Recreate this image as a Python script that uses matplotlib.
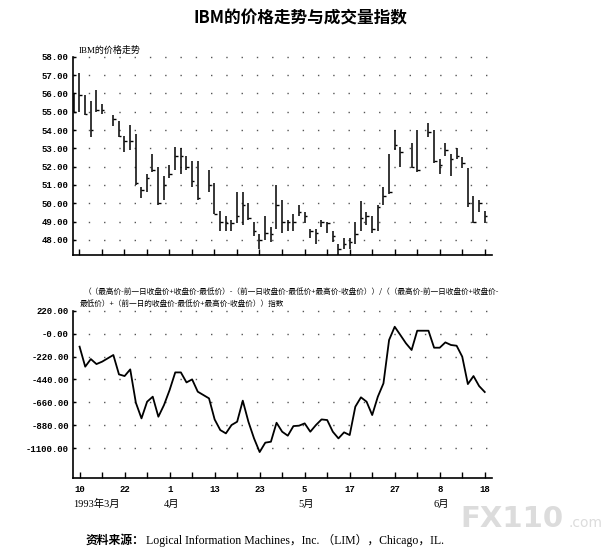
import numpy as np
import matplotlib
matplotlib.use("Agg")
import matplotlib.pyplot as plt

plt.rcParams['font.family'] = ['Noto Sans CJK SC', 'DejaVu Sans']

# ---------------- data ----------------
# trading-day index (0 = 1993-03-10)
price_days = list(range(-1, 73))
price_high = [56.0, 57.1, 55.9, 55.6, 56.2, 55.4, np.nan, 54.8, 54.5, 53.7, 54.3,
              53.8, 50.9, 51.6, 52.7, 52.0, 51.5, 52.1, 53.1, 53.0, 52.6,
              52.3, 52.3, np.nan, 51.8, 51.1, 49.6, 49.3, 49.1, 50.6, 50.6,
              50.0, 49.0, 48.3, 49.3, 48.7, 51.0, 50.2, 49.1, 49.4, 49.9,
              49.5, 48.6, 48.6, 49.1, 49.0, 48.5, 47.8, 48.1, 48.1, 49.0,
              50.1, 49.5, 49.3, 49.9, 50.9, 52.7, 54.0, 53.1, np.nan, 53.3,
              54.0, np.nan, 54.4, 54.0, 52.4, 53.3, 52.7, 53.0, 52.5, 51.9,
              50.4, 50.2, 49.6]
price_low = [55.0, 55.0, 54.8, 53.6, 55.0, 54.9, np.nan, 54.2, 53.6, 52.8, 52.9,
             51.0, 50.3, 50.6, 51.7, 49.9, 50.2, 51.4, 51.8, 51.6, 51.8,
             50.9, 50.2, np.nan, 50.6, 49.4, 48.5, 48.5, 48.5, 48.9, 48.8,
             49.1, 48.2, 47.5, 48.0, 47.9, 48.6, 48.4, 48.5, 48.5, 49.3,
             48.9, 48.1, 47.8, 48.7, 48.4, 47.9, 47.2, 47.5, 47.5, 47.8,
             48.5, 48.8, 48.4, 48.5, 49.9, 50.5, 52.9, 52.0, np.nan, 51.9,
             51.7, np.nan, 53.6, 52.2, 51.6, 52.6, 51.5, 52.4, 51.9, 49.8,
             48.9, 49.5, 48.9]
price_close = [55.0, 55.9, 54.9, 54.0, 55.1, 55.1, np.nan, 54.6, 53.7, 53.4, 53.4,
               51.1, 50.7, 51.4, 51.8, 50.0, 51.0, 51.6, 52.6, 52.6, 52.0,
               51.2, 50.3, np.nan, 51.0, 49.4, 49.0, 48.9, 48.9, 49.3, 49.9,
               49.2, 48.5, 48.0, 48.4, 48.3, 49.9, 49.0, 49.0, 49.0, 49.5,
               49.3, 48.5, 48.4, 49.0, 48.9, 48.2, 47.5, 47.8, 47.9, 48.3,
               49.2, 49.3, 48.6, 49.8, 50.4, 50.6, 53.2, 52.8, np.nan, 52.0,
               51.8, np.nan, 53.9, 52.3, 52.1, 52.9, 52.4, 52.6, 52.2, 50.0,
               49.0, 50.0, 49.3]

index_days = list(range(0, 73))
index_vals = [-125, -317, -244, -292, -269, -237, -205, -391, -407, -343,
              -663, -813, -653, -605, -797, -685, -541, -372, -372, -468,
              -439, -557, -589, -621, -823, -925, -957, -877, -845, -643,
              -845, -1005, -1136, -1046, -1037, -855, -941, -979, -887, -883,
              -861, -941, -877, -823, -829, -941, -1005, -947, -973, -701,
              -611, -653, -781, -605, -477, -61, 66, -13, -93, -157,
              28, 28, 28, -135, -135, -84, -109, -116, -221, -484,
              -407, -503, -560]

price_ticks = [48, 49, 50, 51, 52, 53, 54, 55, 56, 57, 58]
index_ticks = [220, 0, -220, -440, -660, -880, -1100]
index_tick_labels = ['220.00', '-0.00', '-220.00', '-440.00', '-660.00', '-880.00', '-1100.00']
x_label_days = [0, 8, 16, 24, 32, 40, 48, 56, 64, 72]
x_labels = ['10', '22', '1', '13', '23', '5', '17', '27', '8', '18']
month_label_days = [0, 16, 40, 64]
month_labels = ['1993年3月', '4月', '5月', '6月']

# ---------------- figure ----------------
W, H = 612, 554
fig = plt.figure(figsize=(W / 100, H / 100), dpi=100)
fig.patch.set_facecolor('white')

def fx(x):
    return x / W

def fy(y):
    return 1 - y / H

XL = (-1.17, 73.2)
mono = dict(family='Liberation Mono', weight='bold', size=6.5)

ax1 = fig.add_axes([fx(72.7), fy(255), fx(491.5 - 72.7), (255 - 56.7) / H])
ax2 = fig.add_axes([fx(73), fy(478), fx(491.5 - 73), (478 - 310.7) / H])

for ax in (ax1, ax2):
    ax.set_xlim(*XL)
    for s in ('top', 'right'):
        ax.spines[s].set_visible(False)
    for s in ('left', 'bottom'):
        ax.spines[s].set_linewidth(1.2)
    ax.set_xticks(np.arange(0, 73, 4))
    ax.tick_params(axis='x', direction='in', length=4, width=1.0)
    ax.tick_params(axis='y', direction='in', length=2.5, width=1.0, pad=3)

# top: HLC bars
pd_ = np.array(price_days, dtype=float)
ph = np.array(price_high)
pl = np.array(price_low)
pc = np.array(price_close)
ok = ~np.isnan(ph)
ax1.set_ylim(47.18, 58.0)
for t in price_ticks:
    ax1.axhline(t, color='#555555', lw=1.0, ls=(0, (1, 10)), clip_on=False, zorder=0)
ax1.vlines(pd_[ok], pl[ok], ph[ok], color='black', lw=1.1)
ax1.hlines(pc[ok], pd_[ok], pd_[ok] + 0.45, color='black', lw=1.0)
ax1.set_yticks(price_ticks)
ax1.set_yticklabels(['%.2f' % t for t in price_ticks], fontdict=mono)
ax1.set_xticklabels([])

# bottom: index line
ax2.set_ylim(-1385, 220)
for t in index_ticks:
    ax2.axhline(t, color='#555555', lw=1.0, ls=(0, (1, 10)), clip_on=False, zorder=0)
ax2.plot(index_days, index_vals, color='black', lw=1.3)
ax2.set_yticks(index_ticks)
ax2.set_yticklabels(index_tick_labels, fontdict=mono)
ax2.set_xticklabels([])

# x labels under bottom chart
for d, lab in zip(x_label_days, x_labels):
    ax2.text(d, -0.07, lab, transform=ax2.get_xaxis_transform(), ha='center', va='center',
             **mono)
for d, lab in zip(month_label_days, month_labels):
    ax2.text(d - 1.1, -0.155, lab, transform=ax2.get_xaxis_transform(), ha='left', va='center',
             family=['Liberation Serif', 'Noto Sans CJK SC'], size=7.5)

# texts
fig.text(fx(300), fy(18), 'IBM的价格走势与成交量指数', ha='center', va='center',
         size=12, weight='bold')
fig.text(fx(79), fy(50), 'IBM的价格走势', ha='left', va='center', size=6.5,
         family=['Liberation Serif', 'Noto Sans CJK SC'])
fig.text(fx(84), fy(292),
         '（（最高价-前一日收盘价+收盘价-最低价）-（前一日收盘价-最低价+最高价-收盘价））/（（最高价-前一日收盘价+收盘价-',
         ha='left', va='center', size=5.5)
fig.text(fx(80), fy(304),
         '最低价）+（前一日的收盘价-最低价+最高价-收盘价））指数',
         ha='left', va='center', size=5.5)

fig.text(fx(86), fy(540), '资料来源：', ha='left', va='center', size=8.5, weight='bold')
fig.text(fx(146), fy(540), 'Logical Information Machines，Inc. （LIM），Chicago，IL.',
         ha='left', va='center', size=8.5, family=['Liberation Serif', 'Noto Sans CJK SC'])

# watermark
fig.text(fx(460), fy(519), 'FX110', ha='left', va='center', size=21, weight='bold',
         color='#dcdcdc', family='DejaVu Sans', zorder=-1)
fig.text(fx(568), fy(523), '.com', ha='left', va='center', size=10,
         color='#dcdcdc', family='DejaVu Sans', zorder=-1)

fig.savefig('out.png', dpi=100, facecolor='white')
